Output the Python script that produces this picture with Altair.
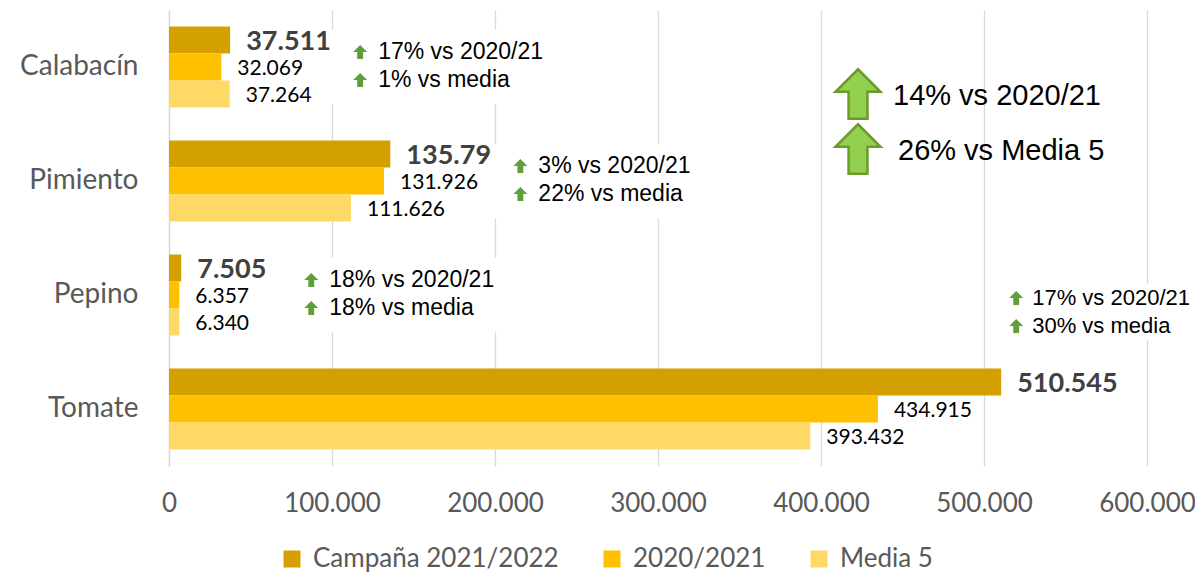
import altair as alt
import pandas as pd

categories = ["Calabacín", "Pimiento", "Pepino", "Tomate"]
series = ["Campaña 2021/2022", "2020/2021", "Media 5"]
colors = ["#D4A000", "#FFC000", "#FFD966"]

campana = [37511, 135790, 7505, 510545]
prev = [32069, 131926, 6357, 434915]
media5 = [37264, 111626, 6340, 393432]

label_campana = ["37.511", "135.79", "7.505", "510.545"]
label_prev = ["32.069", "131.926", "6.357", "434.915"]
label_media = ["37.264", "111.626", "6.340", "393.432"]

vs_prev = ["17% vs 2020/21", "3% vs 2020/21", "18% vs 2020/21", "17% vs 2020/21"]
vs_media = ["1% vs media", "22% vs media", "18% vs media", "30% vs media"]

summary = ["14% vs 2020/21", "26% vs Media 5"]
summary_anchor = 422700

x_ticks = [0, 100000, 200000, 300000, 400000, 500000, 600000]

rows = []
for i, c in enumerate(categories):
    for s, vals, labs in zip(series, [campana, prev, media5], [label_campana, label_prev, label_media]):
        rows.append({"category": c, "series": s, "value": vals[i], "label": labs[i]})
df = pd.DataFrame(rows)

ann = pd.DataFrame({"category": categories, "value": campana, "l1": vs_prev, "l2": vs_media})
ann_rows = ann[ann["category"] != "Tomate"]
ann_tom = ann[ann["category"] == "Tomate"]

ARROW = "M0,-1L1,0L0.42,0L0.42,1L-0.42,1L-0.42,0L-1,0Z"
BIG_ARROW = "M0,-1.1L1,-0.1L0.42,-0.1L0.42,1.1L-0.42,1.1L-0.42,-0.1L-1,-0.1Z"
GREEN = "#5E9F3A"
LABEL_FONT = "Lato"
ANN_FONT = "Liberation Sans"

y_scale = alt.Scale(domain=categories, paddingInner=0.29, paddingOuter=0.145)

x_main = alt.X(
    "value:Q",
    scale=alt.Scale(domain=[0, 600000], nice=False, zero=True),
    axis=alt.Axis(
        title=None, values=x_ticks, domain=False, ticks=False, grid=True,
        gridColor="#D9D9D9", gridWidth=1.3, labelFlush=False, labelOverlap=False,
        labelFont=LABEL_FONT, labelFontSize=26, labelColor="#595959",
        labelPadding=24,
        labelExpr="replace(format(datum.value, ',.0f'), ',', '.')",
    ),
)
y_main = alt.Y(
    "category:N", scale=y_scale, sort=categories,
    axis=alt.Axis(
        title=None, ticks=False, grid=False, domain=True,
        domainColor="#D9D9D9", domainWidth=1.3,
        labelFont=LABEL_FONT, labelFontSize=28, labelColor="#595959",
        labelPadding=31,
    ),
)
y_plain = alt.Y("category:N", scale=y_scale, sort=categories)
x_plain = alt.X("value:Q")
y_off = alt.YOffset("series:N", sort=series, scale=alt.Scale(domain=series, paddingInner=0, paddingOuter=0))

bars = alt.Chart(df).mark_bar().encode(
    x=x_main,
    y=y_main,
    yOffset=y_off,
    color=alt.Color(
        "series:N", title=None,
        scale=alt.Scale(domain=series, range=colors),
        legend=alt.Legend(
            orient="none", direction="horizontal", legendX=110, legendY=536,
            symbolType="square", symbolSize=289, symbolStrokeWidth=0,
            labelFont=LABEL_FONT, labelFontSize=26, labelColor="#595959",
            labelOffset=8, columnPadding=40, labelLimit=500,
        ),
    ),
)

# white boxes behind annotations (hide gridlines like the text boxes do)
boxes = alt.Chart(ann_rows).mark_bar(color="white", height=75, xOffset=100, x2Offset=320).encode(
    x=x_plain, x2=alt.X2("value"), y=y_plain
)
box_tom = alt.Chart(ann_tom).mark_bar(color="white", height=57, yOffset=-97, xOffset=3, x2Offset=240).encode(
    x=x_plain, x2=alt.X2("value"), y=y_plain
)

bold_labels = alt.Chart(df).transform_filter(
    alt.datum.series == series[0]
).mark_text(align="left", baseline="middle", dx=16, dy=2, font=LABEL_FONT, fontSize=27,
            fontWeight="bold", color="#404040").encode(
    x=x_plain, y=y_plain, yOffset=y_off, text="label:N"
)
reg_labels = alt.Chart(df).transform_filter(
    alt.datum.series != series[0]
).mark_text(align="left", baseline="middle", dx=16, dy=2, font=LABEL_FONT, fontSize=21,
            color="#000000").encode(
    x=x_plain, y=y_plain, yOffset=y_off, text="label:N"
)


def arrow_layer(data, xo, yo):
    return alt.Chart(data).mark_point(
        shape=ARROW, size=196, filled=True, opacity=1, color=GREEN, strokeWidth=0,
        xOffset=xo, yOffset=yo,
    ).encode(x=x_plain, y=y_plain)


def text_layer(data, field, dx, dy, fs=23):
    return alt.Chart(data).mark_text(
        align="left", baseline="middle", dx=dx, dy=dy, font=ANN_FONT, fontSize=fs, color="#000000"
    ).encode(x=x_plain, y=y_plain, text=f"{field}:N")


row_layers = [
    arrow_layer(ann_rows, 130, -15), arrow_layer(ann_rows, 130, 13),
    text_layer(ann_rows, "l1", 148, -15), text_layer(ann_rows, "l2", 148, 13),
    arrow_layer(ann_tom, 15, -111), arrow_layer(ann_tom, 15, -83),
    text_layer(ann_tom, "l1", 31, -111, 22), text_layer(ann_tom, "l2", 31, -83, 22),
]

sum_df = pd.DataFrame({"category": [categories[0], categories[0]], "text": summary})
sum_layers = []
for i, (yo, tdx) in enumerate([(27, 35), (82, 40)]):
    one = sum_df.iloc[[i]]
    sum_layers.append(
        alt.Chart(one).mark_point(
            shape=BIG_ARROW, size=2025, filled=True, opacity=1, fill="#92D050",
            stroke="#6E9A2A", strokeWidth=2.5, yOffset=yo,
        ).encode(x=alt.datum(summary_anchor), y=y_plain)
    )
    sum_layers.append(
        alt.Chart(one).mark_text(
            align="left", baseline="middle", dx=tdx, dy=yo + 2, font=ANN_FONT, fontSize=29, color="#000000"
        ).encode(x=alt.datum(summary_anchor), y=y_plain, text="text:N")
    )

chart = alt.layer(
    bars, boxes, box_tom, bold_labels, reg_labels, *row_layers, *sum_layers
).properties(
    width=978, height=456,
    autosize=alt.AutoSizeParams(type="none"),
    padding={"left": 161, "top": 2, "right": 48, "bottom": 107},
    background="white",
).configure_view(stroke=None)

chart.save("out.html", embed_options={"renderer": "svg", "actions": False})
